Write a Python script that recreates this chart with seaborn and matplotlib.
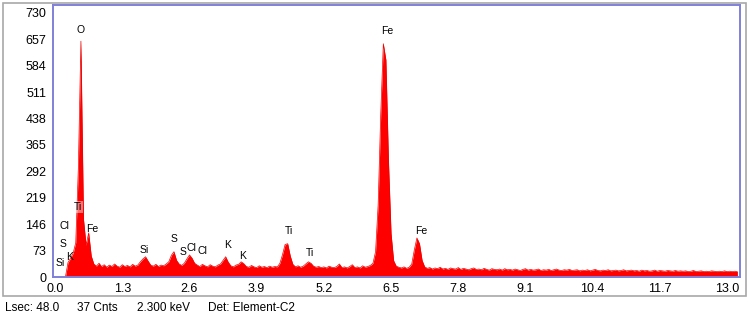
import numpy as np
import pandas as pd
import matplotlib
matplotlib.use("Agg")
import matplotlib.pyplot as plt
from matplotlib.patches import Rectangle
import seaborn as sns

# EDS spectrum, channels of 0.05 keV starting at 0.20 keV
e_start = 0.20
e_step = 0.05
counts = [
    0, 40, 52, 66, 95, 300, 652, 160, 88, 122, 58, 36, 30, 38, 29, 34, 27, 33, 29, 36,
    30, 27, 34, 29, 32, 28, 35, 30, 33, 42, 50, 56, 44, 33, 30, 35, 29, 33, 31, 36,
    42, 60, 70, 46, 36, 32, 38, 50, 61, 52, 38, 33, 29, 35, 31, 28, 34, 30, 28, 33,
    36, 46, 56, 41, 31, 28, 33, 35, 42, 37, 29, 27, 32, 28, 26, 31, 27, 29, 26, 30,
    27, 29, 28, 38, 62, 90, 92, 58, 35, 28, 31, 27, 30, 36, 42, 38, 30, 27, 29, 26,
    28, 25, 30, 27, 26, 29, 36, 26, 28, 25, 29, 34, 26, 28, 25, 31, 27, 29, 32, 38,
    70, 200, 450, 645, 600, 320, 120, 45, 30, 27, 25, 28, 24, 27, 36, 75, 108, 92, 46, 28,
    24, 26, 22, 25, 23, 27, 22, 24, 21, 25, 23, 22, 26, 21, 24, 22, 20, 23, 25, 21,
    22, 20, 24, 21, 19, 23, 21, 20, 22, 19, 23, 20, 21, 19, 22, 20, 18, 21, 23, 19,
    21, 19, 20, 22, 18, 20, 19, 21, 18, 20, 22, 19, 18, 20, 19, 21, 18, 19, 20, 17,
    19, 18, 20, 17, 19, 21, 18, 17, 19, 18, 20, 17, 18, 19, 17, 18, 20, 17, 18, 19,
    17, 18, 16, 19, 17, 18, 16, 17, 19, 16, 18, 17, 16, 18, 17, 16, 18, 16, 17, 16,
    17, 15, 16, 18, 15, 16, 17, 15, 16, 15, 17, 16, 15, 16, 15, 17, 15, 16, 15, 16,
    15,
]

# peak labels: element, energy (keV), label height (counts)
label_names = ["O", "Ti", "Cl", "Fe", "S", "Si", "K", "Si", "S", "S", "Cl", "Cl",
               "K", "K", "Ti", "Ti", "Fe", "Fe"]
label_x = [0.50, 0.45, 0.19, 0.72, 0.155, 0.10, 0.29, 1.72, 2.30, 2.48, 2.63, 2.86,
           3.33, 3.62, 4.53, 4.93, 6.42, 7.08]
label_y = [683, 194, 142, 133, 92, 39, 56, 75, 105, 69, 80, 72,
           89, 58, 128, 67, 680, 128]

y_ticks = [0, 73, 146, 219, 292, 365, 438, 511, 584, 657, 730]
x_ticks = [0.0, 1.3, 2.6, 3.9, 5.2, 6.5, 7.8, 9.1, 10.4, 11.7, 13.0]

footer = ["Lsec: 48.0", "37 Cnts", "2.300 keV", "Det: Element-C2"]
footer_x = [5, 77, 137, 208]

df = pd.DataFrame({"counts": counts})
df["energy"] = np.round(e_start + e_step * np.arange(len(counts)), 3)

sns.set_style("white")
plt.rcParams["font.family"] = ["Liberation Sans", "DejaVu Sans"]
plt.rcParams["text.color"] = "black"
plt.rcParams["xtick.labelcolor"] = "black"
plt.rcParams["ytick.labelcolor"] = "black"

fig = plt.figure(figsize=(7.48, 3.15), dpi=100)
ax = fig.add_axes([53 / 748, 1 - 277 / 315, 687 / 748, 272 / 315])

ax.fill_between(df.energy, df.counts, color="#ff0000", linewidth=0)
sns.lineplot(data=df, x="energy", y="counts", color="#ee0000", linewidth=0.5, ax=ax)

ax.set_xlim(-0.04, 13.25)
ax.set_ylim(0, 752)
ax.set_xticks(x_ticks)
ax.set_xticklabels([f"{v:.1f}" for v in x_ticks])
ax.set_yticks(y_ticks)
ax.set_yticklabels([str(v) for v in y_ticks])
ax.set_xlabel("")
ax.set_ylabel("")
ax.tick_params(axis="y", length=0, pad=5, labelsize=9, labelcolor="black")
ax.tick_params(axis="x", length=2, direction="in", color="#8888dd", pad=4,
               labelsize=9, labelcolor="black")

for s in ax.spines.values():
    s.set_color("#8080d8")
    s.set_linewidth(1.4)

for name, x, y in zip(label_names, label_x, label_y):
    bb = None
    if name == "Ti" and x < 1:
        bb = dict(boxstyle="square,pad=0.1", facecolor="white", alpha=0.45, linewidth=0)
    ax.text(x, y, name, fontsize=7.5, ha="center", va="center", color="black", bbox=bb)

# outer grey frame
fig.patches.append(Rectangle((3 / 748, 1 - 296 / 315), 743 / 748, 293 / 315,
                             transform=fig.transFigure, fill=False,
                             edgecolor="#a8a8a8", linewidth=1.2))

for t, x in zip(footer, footer_x):
    fig.text(x / 748, 1 - 308 / 315, t, fontsize=8.5, ha="left", va="center", color="black")

fig.savefig("out.png", dpi=100)
